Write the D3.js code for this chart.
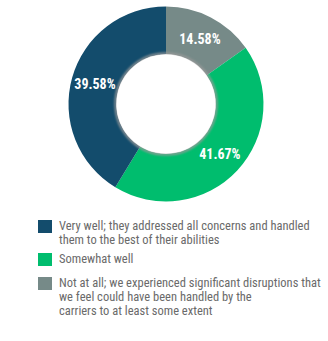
<!DOCTYPE html>
<html>
<head>
<meta charset="utf-8">
<script src="https://cdn.jsdelivr.net/npm/d3@7"></script>
<style>
  html, body { margin: 0; padding: 0; background: #fff; }
  svg { display: block; }
</style>
</head>
<body>
<svg id="chart" width="328" height="341"></svg>
<script>
// Survey responses: how well carriers handled disruptions
const categories = [
  "Not at all; we experienced significant disruptions that we feel could have been handled by the carriers to at least some extent",
  "Somewhat well",
  "Very well; they addressed all concerns and handled them to the best of their abilities"
];
const values = [14.58, 41.67, 39.58];
const colors = ["#768a88", "#00bd6e", "#134c6c"];
const labels = ["14.58%", "41.67%", "39.58%"];

// Legend order and wrapped lines
const legendOrder = [2, 1, 0];
const legendLines = [
  ["Very well; they addressed all concerns and handled", "them to the best of their abilities"],
  ["Somewhat well"],
  ["Not at all; we experienced significant disruptions that", "we feel could have been handled by the", "carriers to at least some extent"]
];

const svg = d3.select("#chart");
const cx = 166, cy = 104, outerR = 97.5, innerR = 50;

const defs = svg.append("defs");
defs.append("filter").attr("id", "soft")
  .append("feGaussianBlur").attr("stdDeviation", 0.9);

const pie = d3.pie().sort(null).value(d => d)
  .startAngle(0).endAngle(2 * Math.PI);
const arcs = pie(values);
const arc = d3.arc().innerRadius(innerR).outerRadius(outerR);
const labelArc = d3.arc().innerRadius((innerR + outerR) / 2).outerRadius((innerR + outerR) / 2);

const g = svg.append("g").attr("transform", `translate(${cx},${cy})`);

g.selectAll("path.slice")
  .data(arcs)
  .join("path")
  .attr("class", "slice")
  .attr("d", arc)
  .attr("fill", (d, i) => colors[i]);

// soft grey rim around the hole
g.append("circle")
  .attr("r", innerR + 0.5)
  .attr("fill", "none")
  .attr("stroke", "#9a9a9a")
  .attr("stroke-width", 2)
  .attr("filter", "url(#soft)");
g.append("circle")
  .attr("r", innerR - 0.5)
  .attr("fill", "#fff");

g.selectAll("text.pct")
  .data(arcs)
  .join("text")
  .attr("class", "pct")
  .attr("transform", d => `translate(${labelArc.centroid(d)})`)
  .attr("text-anchor", "middle")
  .attr("dy", "0.36em")
  .attr("fill", "#fff")
  .attr("font-family", "'Liberation Sans Narrow', 'Arial Narrow', 'Roboto Condensed', sans-serif")
  .attr("font-weight", "bold")
  .attr("font-size", 14)
  .text((d, i) => labels[i]);

// Legend
const legend = svg.append("g").attr("transform", "translate(38,220)");
const rowY = [0, 33, 57];
legendOrder.forEach((idx, r) => {
  const row = legend.append("g").attr("transform", `translate(0,${rowY[r]})`);
  row.append("rect")
    .attr("width", 14).attr("height", 13)
    .attr("fill", colors[idx]);
  const t = row.append("text")
    .attr("x", 21)
    .attr("y", 10)
    .attr("fill", "#6a6a6a")
    .attr("font-family", "'Liberation Sans Narrow', 'Arial Narrow', 'Roboto Condensed', sans-serif")
    .attr("font-size", 12.5);
  legendLines[r].forEach((line, k) => {
    t.append("tspan").attr("x", 21).attr("dy", k === 0 ? 0 : 14).text(line);
  });
});
</script>
</body>
</html>
